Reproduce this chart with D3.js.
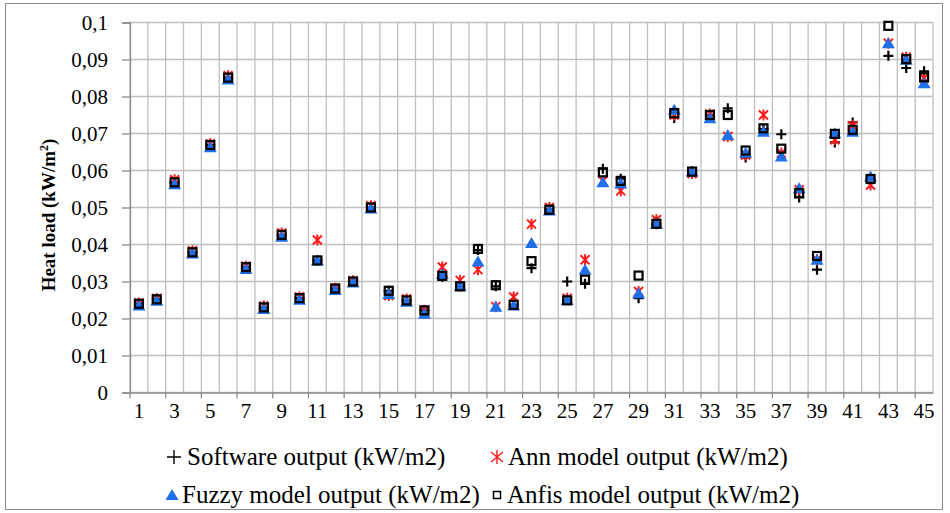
<!DOCTYPE html>
<html>
<head>
<meta charset="utf-8">
<script src="https://cdn.jsdelivr.net/npm/d3@7"></script>
<style>
  body { margin: 0; background: #fff; }
  svg text { font-family: "Liberation Serif", "Times New Roman", serif; fill: #000; }
</style>
</head>
<body>
<div id="chart"></div>
<script>
// Sample numbers 1..45
const samples = d3.range(1, 46);
const yTicks = [0, 0.01, 0.02, 0.03, 0.04, 0.05, 0.06, 0.07, 0.08, 0.09, 0.1];

const software = [0.0240, 0.0252, 0.0568, 0.0379, 0.0669, 0.0851, 0.0339, 0.0230, 0.0426, 0.0255,
  0.0357, 0.0281, 0.0300, 0.0500, 0.0275, 0.0249, 0.0222, 0.0313, 0.0287, 0.0385,
  0.0287, 0.0237, 0.0336, 0.0494, 0.0300, 0.0294, 0.0605, 0.0578, 0.0255, 0.0455,
  0.0742, 0.0597, 0.0750, 0.0768, 0.0635, 0.0712, 0.0698, 0.0527, 0.0332, 0.0676,
  0.0730, 0.0577, 0.0910, 0.0877, 0.0868];
const ann = [0.0242, 0.0254, 0.0575, 0.0383, 0.0672, 0.0856, 0.0341, 0.0234, 0.0431, 0.0258,
  0.0412, 0.0282, 0.0302, 0.0505, 0.0262, 0.0253, 0.0222, 0.0339, 0.0303, 0.0332,
  0.0232, 0.0258, 0.0455, 0.0500, 0.0255, 0.0359, 0.0572, 0.0545, 0.0273, 0.0467,
  0.0750, 0.0592, 0.0753, 0.0692, 0.0642, 0.0750, 0.0647, 0.0548, 0.0359, 0.0683,
  0.0721, 0.0561, 0.0944, 0.0906, 0.0850];
const fuzzy = [0.0235, 0.0248, 0.0563, 0.0376, 0.0663, 0.0846, 0.0334, 0.0226, 0.0421, 0.0251,
  0.0357, 0.0277, 0.0297, 0.0497, 0.0266, 0.0245, 0.0213, 0.0320, 0.0287, 0.0354,
  0.0232, 0.0235, 0.0404, 0.0492, 0.0250, 0.0332, 0.0568, 0.0565, 0.0268, 0.0456,
  0.0764, 0.0597, 0.0741, 0.0696, 0.0648, 0.0705, 0.0638, 0.0552, 0.0359, 0.0701,
  0.0705, 0.0584, 0.0944, 0.0899, 0.0836];
const anfis = [0.0240, 0.0252, 0.0568, 0.0379, 0.0669, 0.0851, 0.0339, 0.0230, 0.0426, 0.0255,
  0.0357, 0.0281, 0.0300, 0.0500, 0.0275, 0.0249, 0.0222, 0.0315, 0.0287, 0.0388,
  0.0290, 0.0237, 0.0355, 0.0494, 0.0249, 0.0305, 0.0595, 0.0572, 0.0316, 0.0456,
  0.0755, 0.0597, 0.0750, 0.0750, 0.0654, 0.0714, 0.0659, 0.0539, 0.0369, 0.0699,
  0.0710, 0.0577, 0.0991, 0.0901, 0.0852];

const seriesNames = ["Software output (kW/m2)", "Ann model output (kW/m2)",
  "Fuzzy model output (kW/m2)", "Anfis model output (kW/m2)"];

const WIDTH = 950, HEIGHT = 513;
const margin = {top: 22.5, right: 17, bottom: 120.5, left: 130};

let svg = d3.select("#chart").append("svg")
  .attr("width", WIDTH).attr("height", HEIGHT);

// outer frame
svg.append("rect")
  .attr("x", 5.5).attr("y", 3.5).attr("width", 937).attr("height", 506)
  .attr("fill", "none").attr("stroke", "#8c8c8c").attr("stroke-width", 1);

let x = d3.scaleBand().domain(samples)
  .range([margin.left, WIDTH - margin.right]).padding(0);
let y = d3.scaleLinear().domain([0, 0.1])
  .range([HEIGHT - margin.bottom, margin.top]);

let fmt = d => d3.format(".2~f")(d).replace(".", ",");

// horizontal gridlines
svg.append("g").selectAll("line").data(yTicks).enter().append("line")
  .attr("x1", margin.left).attr("x2", WIDTH - margin.right)
  .attr("y1", d => y(d)).attr("y2", d => y(d))
  .attr("stroke", "#bfbfbf").attr("stroke-width", 1.3);

// vertical gridlines at category edges
let edges = samples.map(s => x(s)).concat([x(45) + x.bandwidth()]);
svg.append("g").selectAll("line").data(edges).enter().append("line")
  .attr("x1", d => d).attr("x2", d => d)
  .attr("y1", y(0.1)).attr("y2", y(0))
  .attr("stroke", "#bfbfbf").attr("stroke-width", 1.3);

// y axis
let yAxis = svg.append("g")
  .attr("transform", `translate(${margin.left},0)`)
  .call(d3.axisLeft(y).tickValues(yTicks).tickFormat(fmt).tickSize(8).tickPadding(14));
yAxis.select(".domain").attr("stroke", "#8c8c8c").attr("stroke-width", 1.3);
yAxis.selectAll(".tick line").attr("stroke", "#8c8c8c").attr("stroke-width", 1.3);
yAxis.selectAll("text").attr("font-size", 21)
  .attr("font-family", "Liberation Serif");

// x axis, labels on odd samples, ticks every second edge
let xAxis = svg.append("g")
  .attr("transform", `translate(0,${y(0)})`)
  .call(d3.axisBottom(x).tickValues(samples.filter(s => s % 2 == 1)).tickSize(0).tickPadding(11));
xAxis.select(".domain").attr("stroke", "#8c8c8c").attr("stroke-width", 1.3);
xAxis.selectAll("text").attr("font-size", 21)
  .attr("font-family", "Liberation Serif");
svg.append("g").selectAll("line").data(edges.filter((d, i) => i % 2 == 0)).enter().append("line")
  .attr("x1", d => d).attr("x2", d => d)
  .attr("y1", y(0)).attr("y2", y(0) + 6)
  .attr("stroke", "#8c8c8c").attr("stroke-width", 1.3);

// y axis title
svg.append("text")
  .attr("transform", `translate(55,215) rotate(-90)`)
  .attr("text-anchor", "middle")
  .attr("font-size", 19).attr("font-weight", "bold")
  .html('Heat load (kW/m<tspan dy="-7" font-size="12">2</tspan><tspan dy="7">)</tspan>');

// marker shapes
const markers = {
  plus: g => g.append("path").attr("d", "M-5,0H5M0,-5V5")
    .attr("stroke", "#000").attr("stroke-width", 2.2).attr("fill", "none"),
  star: g => g.append("path").attr("d", "M-4.5,-4.5L4.5,4.5M-4.5,4.5L4.5,-4.5M0,-5.5V5.5")
    .attr("stroke", "#ff1a1a").attr("stroke-width", 2).attr("fill", "none"),
  tri: g => g.append("path").attr("d", "M0,-6L6.5,5H-6.5Z")
    .attr("fill", "#1f6fe8").attr("stroke", "none"),
  square: g => g.append("rect").attr("x", -4).attr("y", -4).attr("width", 8).attr("height", 8)
    .attr("stroke", "#000").attr("stroke-width", 2.2).attr("fill", "none"),
};

const seriesData = [software, ann, fuzzy, anfis];
const seriesMarker = ["plus", "star", "tri", "square"];

seriesData.forEach(function(values, k) {
  let pts = svg.append("g").selectAll("g").data(values).enter().append("g")
    .attr("transform", (d, i) => `translate(${x(samples[i]) + x.bandwidth() / 2},${y(d)})`);
  pts.each(function() { markers[seriesMarker[k]](d3.select(this)); });
});

// legend
const legendPos = [[174, 457], [497, 457], [172, 495], [497, 495]];
const legendTextX = [13, 11, 10, 10];
seriesNames.forEach(function(name, k) {
  let g = svg.append("g").attr("transform", `translate(${legendPos[k][0]},${legendPos[k][1]})`);
  let m = markers[seriesMarker[k]](g);
  if (seriesMarker[k] == "square") m.attr("stroke-width", 1.5).attr("x", -3.5).attr("y", -3.5).attr("width", 7).attr("height", 7);
  if (seriesMarker[k] == "plus") m.attr("stroke-width", 1.4).attr("d", "M-7,0H7M0,-7V7");
  if (seriesMarker[k] == "star") m.attr("stroke-width", 1.4).attr("d", "M-6,-5L6,5M-6,5L6,-5M0,-7V7");
  g.append("text").attr("x", legendTextX[k]).attr("y", 8)
    .attr("font-size", 25).text(name);
});
</script>
</body>
</html>
